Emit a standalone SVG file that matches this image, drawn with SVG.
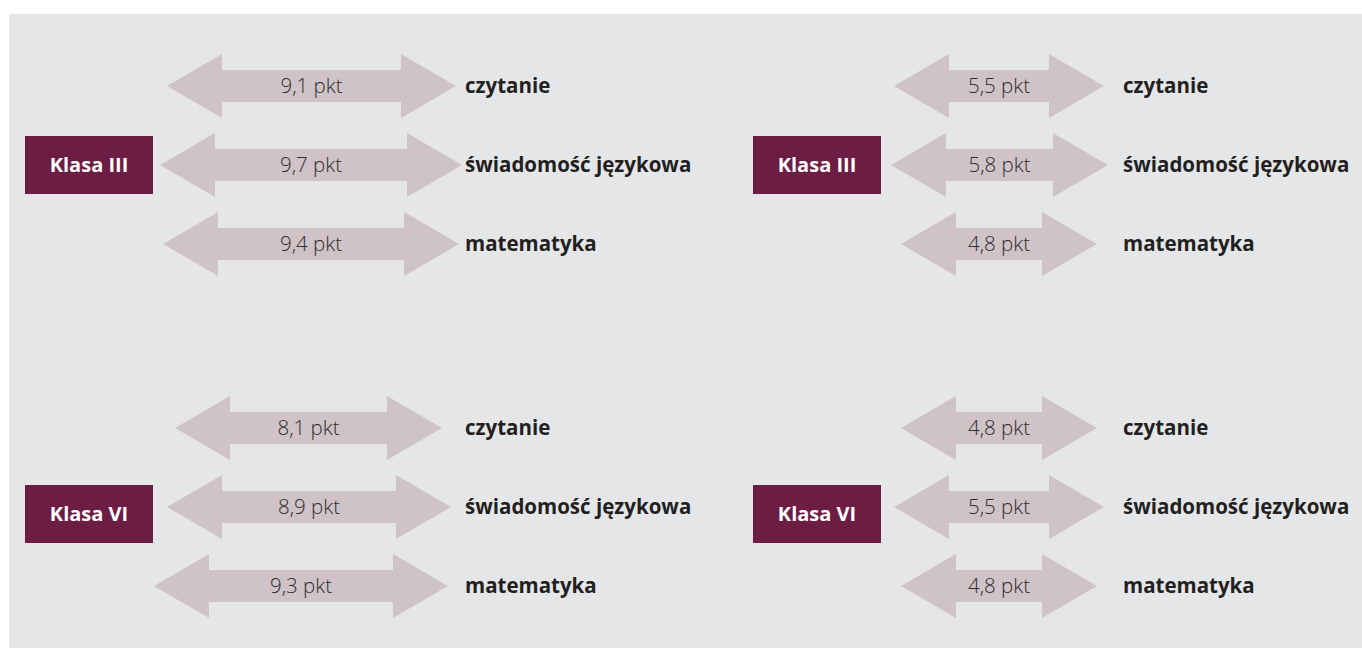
<svg xmlns="http://www.w3.org/2000/svg" width="1362" height="650" viewBox="0 0 1362 650">
  <style>
    .panel { fill: #e5e6e8; }
    .klasa { fill: #6d1c44; }
    .klasa-t { font-family: "Open Sans", "Liberation Sans", sans-serif; font-weight: 700; font-size: 20px; fill: #ffffff; text-anchor: middle; }
    .arrow { fill: #cfc3c7; }
    .val { font-family: "Open Sans", "Liberation Sans", sans-serif; font-weight: 300; font-size: 20.5px; fill: #2f2c2d; text-anchor: middle; }
    .subj { font-family: "Open Sans", "Liberation Sans", sans-serif; font-weight: 700; font-size: 20.5px; fill: #231f20; }
  </style>

  <rect width="1362" height="650" fill="#ffffff"/>
  <rect class="panel" x="9" y="14" width="1353" height="634"/>

  <!-- class boxes -->
  <g id="klasa-iii-a">
    <rect class="klasa" x="25" y="136" width="128" height="58"/>
    <text class="klasa-t" x="89" y="172">Klasa III</text>
  </g>
  <g id="klasa-iii-b">
    <rect class="klasa" x="753" y="136" width="128" height="58"/>
    <text class="klasa-t" x="817" y="172">Klasa III</text>
  </g>
  <g id="klasa-vi-a">
    <rect class="klasa" x="25" y="485" width="128" height="58"/>
    <text class="klasa-t" x="89" y="521">Klasa VI</text>
  </g>
  <g id="klasa-vi-b">
    <rect class="klasa" x="753" y="485" width="128" height="58"/>
    <text class="klasa-t" x="817" y="521">Klasa VI</text>
  </g>

  <!-- subject labels -->
  <g id="subj-iii-a">
    <text class="subj" x="465" y="93">czytanie</text>
    <text class="subj" x="465" y="172">świadomość językowa</text>
    <text class="subj" x="465" y="251">matematyka</text>
  </g>
  <g id="subj-iii-b">
    <text class="subj" x="1123" y="93">czytanie</text>
    <text class="subj" x="1123" y="172">świadomość językowa</text>
    <text class="subj" x="1123" y="251">matematyka</text>
  </g>
  <g id="subj-vi-a">
    <text class="subj" x="465" y="435">czytanie</text>
    <text class="subj" x="465" y="514">świadomość językowa</text>
    <text class="subj" x="465" y="593">matematyka</text>
  </g>
  <g id="subj-vi-b">
    <text class="subj" x="1123" y="435">czytanie</text>
    <text class="subj" x="1123" y="514">świadomość językowa</text>
    <text class="subj" x="1123" y="593">matematyka</text>
  </g>

  <!-- double-headed arrows with point differences -->
  <g id="connectors">
    <path class="arrow" d="M167,86 L222,54 L222,70 L401,70 L401,54 L456,86 L401,118 L401,102 L222,102 L222,118 Z"/>
    <text class="val" x="311.5" y="93">9,1 pkt</text>
    <path class="arrow" d="M160,165 L215,133 L215,149 L407,149 L407,133 L462,165 L407,197 L407,181 L215,181 L215,197 Z"/>
    <text class="val" x="311" y="172">9,7 pkt</text>
    <path class="arrow" d="M163,244 L218,212 L218,228 L404,228 L404,212 L459,244 L404,276 L404,260 L218,260 L218,276 Z"/>
    <text class="val" x="311" y="251">9,4 pkt</text>

    <path class="arrow" d="M894,86 L949,54 L949,70 L1049,70 L1049,54 L1104,86 L1049,118 L1049,102 L949,102 L949,118 Z"/>
    <text class="val" x="999" y="93">5,5 pkt</text>
    <path class="arrow" d="M891,165 L946,133 L946,149 L1053,149 L1053,133 L1108,165 L1053,197 L1053,181 L946,181 L946,197 Z"/>
    <text class="val" x="999.5" y="172">5,8 pkt</text>
    <path class="arrow" d="M901,244 L956,212 L956,228 L1042,228 L1042,212 L1097,244 L1042,276 L1042,260 L956,260 L956,276 Z"/>
    <text class="val" x="999" y="251">4,8 pkt</text>

    <path class="arrow" d="M175,428 L230,396 L230,412 L387,412 L387,396 L442,428 L387,460 L387,444 L230,444 L230,460 Z"/>
    <text class="val" x="308.5" y="435">8,1 pkt</text>
    <path class="arrow" d="M167,507 L222,475 L222,491 L396,491 L396,475 L451,507 L396,539 L396,523 L222,523 L222,539 Z"/>
    <text class="val" x="309" y="514">8,9 pkt</text>
    <path class="arrow" d="M154,586 L209,554 L209,570 L393,570 L393,554 L448,586 L393,618 L393,602 L209,602 L209,618 Z"/>
    <text class="val" x="301" y="593">9,3 pkt</text>

    <path class="arrow" d="M901,428 L956,396 L956,412 L1042,412 L1042,396 L1097,428 L1042,460 L1042,444 L956,444 L956,460 Z"/>
    <text class="val" x="999" y="435">4,8 pkt</text>
    <path class="arrow" d="M894,507 L949,475 L949,491 L1049,491 L1049,475 L1104,507 L1049,539 L1049,523 L949,523 L949,539 Z"/>
    <text class="val" x="999" y="514">5,5 pkt</text>
    <path class="arrow" d="M901,586 L956,554 L956,570 L1042,570 L1042,554 L1097,586 L1042,618 L1042,602 L956,602 L956,618 Z"/>
    <text class="val" x="999" y="593">4,8 pkt</text>
  </g>
</svg>
